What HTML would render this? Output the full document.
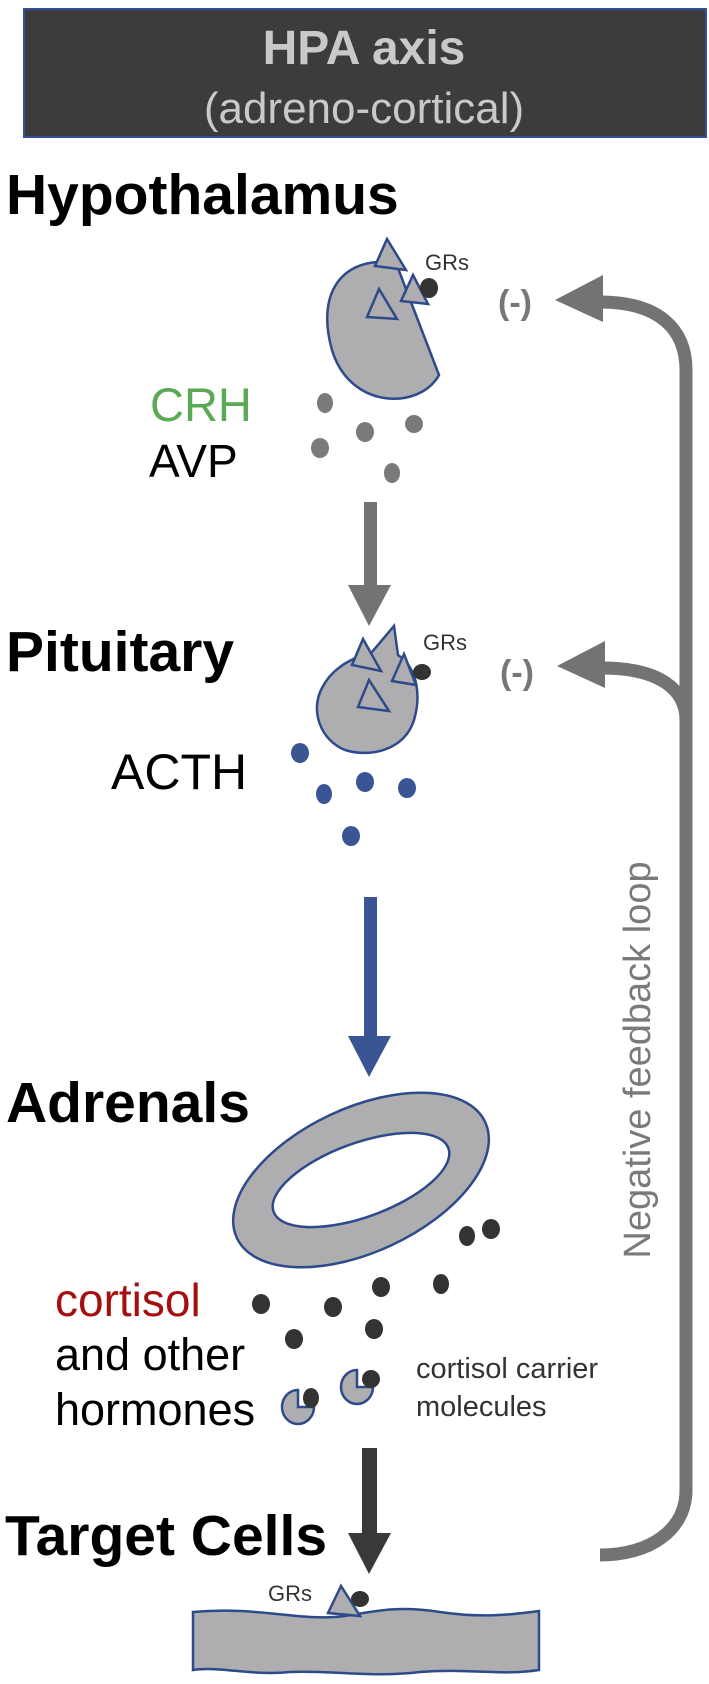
<!DOCTYPE html>
<html><head><meta charset="utf-8"><style>
html,body{margin:0;padding:0;background:#fff;}
svg{display:block;}
text{font-family:"Liberation Sans",Arial,sans-serif;}
</style></head><body>
<svg width="709" height="1684" viewBox="0 0 709 1684" xmlns="http://www.w3.org/2000/svg">
<!-- title box -->
<rect x="24" y="9" width="682" height="128" fill="#3d3b3c" stroke="#34509a" stroke-width="2"/>
<text x="364" y="64" font-size="48" font-weight="bold" fill="#c9c9c9" text-anchor="middle">HPA axis</text>
<text x="364" y="123" font-size="44" fill="#c9c9c9" text-anchor="middle">(adreno-cortical)</text>

<!-- Hypothalamus -->
<text x="6" y="214" font-size="57" font-weight="bold" fill="#000">Hypothalamus</text>
<path d="M396 263 L439 375 C420 410 350 410 332 350 C315 290 345 255 396 263 Z" fill="#aeadb0" stroke="#2e4a8b" stroke-width="2.5"/>
<polygon points="387,239 375,266 406,270" fill="#aeadb0" stroke="#2e4a8b" stroke-width="2.5"/>
<polygon points="413,275 401,301 428,304" fill="#aeadb0" stroke="#2e4a8b" stroke-width="2.5"/>
<polygon points="379,289 367,317 397,319" fill="#aeadb0" stroke="#2e4a8b" stroke-width="2.5"/>
<ellipse cx="429" cy="288" rx="9" ry="10" fill="#333"/>
<text x="425" y="270" font-size="22" fill="#333">GRs</text>
<text x="498" y="314" font-size="34" font-weight="bold" fill="#777">(-)</text>
<text x="150" y="421" font-size="47" fill="#5aaa55">CRH</text>
<text x="149" y="477" font-size="46" fill="#000">AVP</text>
<g fill="#7a7a7a">
<ellipse cx="325" cy="403" rx="8" ry="10"/>
<ellipse cx="414" cy="424" rx="9" ry="9"/>
<ellipse cx="365" cy="432" rx="9" ry="10"/>
<ellipse cx="320" cy="448" rx="9" ry="10"/>
<ellipse cx="392" cy="473" rx="8" ry="10"/>
</g>
<!-- gray arrow -->
<rect x="364" y="502" width="13" height="84" fill="#757272"/>
<polygon points="348,585 391,585 369,626" fill="#757272"/>

<!-- Pituitary -->
<text x="6" y="671" font-size="57" font-weight="bold" fill="#000">Pituitary</text>
<path d="M372 652 L394 626 L398 655 C420 670 420 700 414 720 C405 750 370 758 345 750 C320 740 310 710 322 688 C330 672 345 660 372 652 Z" fill="#aeadb0" stroke="#2e4a8b" stroke-width="2.5"/>
<polygon points="363,639 352,665 381,671" fill="#aeadb0" stroke="#2e4a8b" stroke-width="2.5"/>
<polygon points="404,654 392,681 416,685" fill="#aeadb0" stroke="#2e4a8b" stroke-width="2.5"/>
<polygon points="369,680 358,707 389,711" fill="#aeadb0" stroke="#2e4a8b" stroke-width="2.5"/>
<ellipse cx="422" cy="672" rx="9" ry="8" fill="#333"/>
<text x="423" y="650" font-size="22" fill="#333">GRs</text>
<text x="500" y="684" font-size="34" font-weight="bold" fill="#777">(-)</text>
<text x="111" y="789" font-size="50" fill="#000">ACTH</text>
<g fill="#3a5594">
<ellipse cx="300" cy="753" rx="9" ry="10"/>
<ellipse cx="365" cy="782" rx="9" ry="10"/>
<ellipse cx="407" cy="788" rx="9" ry="10"/>
<ellipse cx="324" cy="794" rx="8" ry="10"/>
<ellipse cx="351" cy="836" rx="9" ry="10"/>
</g>
<!-- blue arrow -->
<rect x="364" y="897" width="13" height="140" fill="#3a5594"/>
<polygon points="348,1036 391,1036 369,1077" fill="#3a5594"/>

<!-- Feedback loop -->
<path d="M600 1555 C650 1555 686 1530 686 1490 L686 370 C686 330 660 302 600 302" fill="none" stroke="#757272" stroke-width="13"/>
<path d="M686 720 C686 690 660 668 602 668" fill="none" stroke="#757272" stroke-width="13"/>
<polygon points="555,300 603,275 603,322" fill="#757272"/>
<polygon points="557,666 605,641 605,688" fill="#757272"/>
<text transform="translate(650,1060) rotate(-90)" font-size="38" fill="#7a7a7a" text-anchor="middle">Negative feedback loop</text>

<!-- Adrenals -->
<text x="6" y="1122" font-size="57" font-weight="bold" fill="#000">Adrenals</text>
<ellipse cx="361" cy="1180" rx="137" ry="72" transform="rotate(-25 361 1180)" fill="#aeadb0" stroke="#2e4a8b" stroke-width="2.5"/>
<ellipse cx="361" cy="1180" rx="93" ry="37" transform="rotate(-20 361 1180)" fill="#fff" stroke="#2e4a8b" stroke-width="2.5"/>
<g fill="#333">
<ellipse cx="467" cy="1236" rx="8" ry="10"/>
<ellipse cx="491" cy="1229" rx="9" ry="10"/>
<ellipse cx="381" cy="1287" rx="9" ry="10"/>
<ellipse cx="441" cy="1284" rx="8" ry="10"/>
<ellipse cx="261" cy="1304" rx="9" ry="10"/>
<ellipse cx="333" cy="1307" rx="9" ry="10"/>
<ellipse cx="374" cy="1329" rx="9" ry="10"/>
<ellipse cx="294" cy="1339" rx="9" ry="10"/>
</g>
<text x="55" y="1316" font-size="46" fill="#a50f0f">cortisol</text>
<text x="55" y="1370" font-size="45" fill="#000">and other</text>
<text x="55" y="1425" font-size="45" fill="#000">hormones</text>
<!-- carriers -->
<path d="M298 1390 A16 17 0 1 0 314 1407 L298 1407 Z" fill="#aeadb0" stroke="#2e4a8b" stroke-width="2.5"/>
<ellipse cx="311" cy="1398" rx="8" ry="10" fill="#333"/>
<path d="M357 1370 A16 17 0 1 0 373 1387 L357 1387 Z" fill="#aeadb0" stroke="#2e4a8b" stroke-width="2.5"/>
<ellipse cx="371" cy="1379" rx="9" ry="9" fill="#333"/>
<text x="416" y="1378" font-size="29" fill="#333">cortisol carrier</text>
<text x="416" y="1416" font-size="29" fill="#333">molecules</text>
<!-- dark arrow -->
<rect x="362" y="1448" width="15" height="86" fill="#3a3839"/>
<polygon points="348,1533 391,1533 369,1574" fill="#3a3839"/>

<!-- Target cells -->
<text x="5" y="1555" font-size="57" font-weight="bold" fill="#000">Target Cells</text>
<path d="M193 1612 C260 1606 300 1622 345 1616 C380 1610 400 1606 440 1612 C480 1618 510 1615 539 1611 L539 1670 C500 1676 470 1668 420 1672 C370 1678 330 1670 290 1672 C250 1676 220 1666 193 1670 Z" fill="#aeadb0" stroke="#2e4a8b" stroke-width="2.5"/>
<polygon points="341,1586 328,1613 360,1616" fill="#aeadb0" stroke="#2e4a8b" stroke-width="2.5"/>
<ellipse cx="360" cy="1599" rx="9" ry="8" fill="#333"/>
<text x="268" y="1601" font-size="22" fill="#333">GRs</text>
</svg>
</body></html>
